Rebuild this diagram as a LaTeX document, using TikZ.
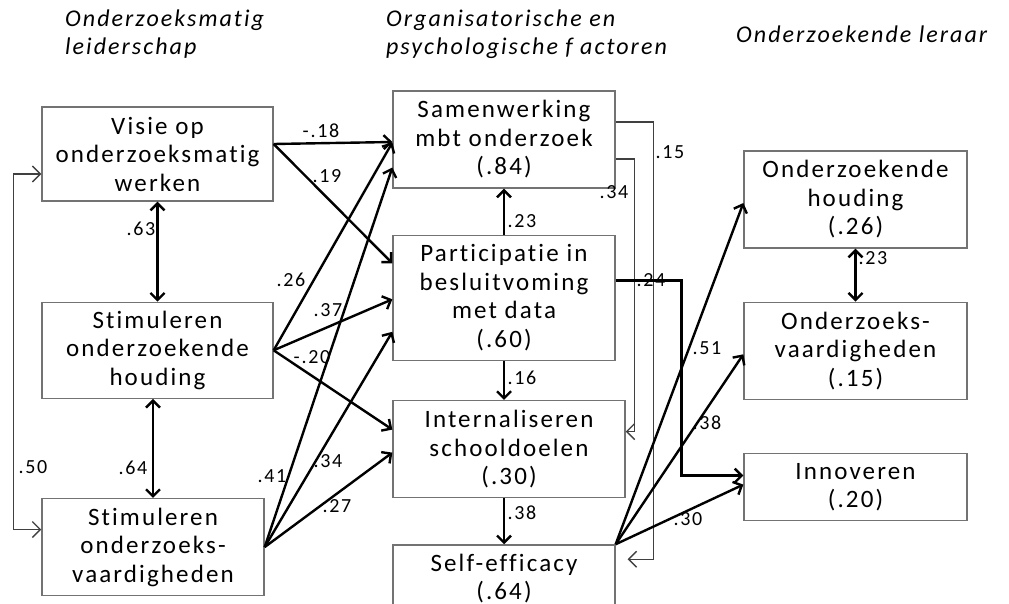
\documentclass[tikz,border=0pt]{standalone}
\usepackage{fontspec}
\setmainfont[LetterSpace=8.5,Ligatures=NoCommon]{Carlito}
\usetikzlibrary{positioning,arrows.meta}

\begin{document}
\begin{tikzpicture}[x=1pt, y=-1pt,
box/.style={draw=black!55, line width=1.3pt, align=center, inner sep=0pt, minimum width=222pt, minimum height=97pt, font=\fontsize{25}{28.5}\selectfont},
arr/.style={line width=2.4pt, -{Straight Barb[length=7pt,width=14pt]}},
darr/.style={line width=2.4pt, {Straight Barb[length=7pt,width=14pt]}-{Straight Barb[length=7pt,width=14pt]}},
thinarr/.style={draw=black!75, line width=1.4pt, -{Straight Barb[length=8pt,width=16pt]}},
coef/.style={font=\fontsize{20}{22}\selectfont, inner sep=0pt},
head/.style={font=\itshape\fontsize{24}{28}\selectfont, align=left, inner sep=0pt}]
\useasboundingbox (0,0) rectangle (1009,604);
\clip (0,0) rectangle (1009,604);
% column titles
\node[head, anchor=north west] (h1) at (65,10) {Onderzoeksmatig\\leiderschap};
\node[head, anchor=north west] (h2) at (386,10) {Organisatorische en\\psychologische f actoren};
\node[head, anchor=base west] (h3) at (736,43) {Onderzoekende leraar};
% leadership
\node[box, minimum width=231pt, minimum height=94pt] (1) at (157.5,154) {Visie op\\onderzoeksmatig\\werken};
\node[box, minimum width=231pt, minimum height=96pt] (2) [below=100pt of 1] {Stimuleren\\onderzoekende\\houding};
\node[box] (3) [below=99pt of 2, xshift=-4.5pt] {Stimuleren\\onderzoeks-\\vaardigheden};
% factors
\node[box] (4) at (504,139.5) {Samenwerking\\mbt onderzoek\\(.84)};
\node[box, minimum height=125pt] (5) [below=46pt of 4] {Participatie in\\besluitvoming\\met data\\(.60)};
\node[box, minimum width=232pt] (6) [below=39pt of 5, xshift=5pt] {Internaliseren\\schooldoelen\\(.30)};
\node[box, minimum height=62pt, inner ysep=9pt] (7) [below=46pt of 6, xshift=-5pt] {Self-efficacy\\(.64)\\\strut};
% teacher
\node[box, minimum width=223pt] (8) at (855.5,199.5) {Onderzoekende\\houding\\(.26)};
\node[box, minimum width=223pt] (9) [below=53pt of 8] {Onderzoeks-\\vaardigheden\\(.15)};
\node[box, minimum width=223pt, minimum height=67pt] (10) [below=53pt of 9] {Innoveren\\(.20)};
% paths
\draw[arr] ([yshift=10pt]1.east) -- ([yshift=-2.5pt]4.west);
\draw[arr] ([yshift=10pt]1.east) -- ([yshift=34.5pt]5.west);
\draw[arr] (2.east) -- ([yshift=-3pt]4.west);
\draw[arr] (2.east) -- ([yshift=-1.5pt]5.west);
\draw[arr] (2.east) -- ([yshift=19.5pt]6.west);
\draw[arr] (3.east) -- ([yshift=-28pt]4.west);
\draw[arr] (3.east) -- ([yshift=-34pt]5.west);
\draw[arr] (3.east) -- ([yshift=-3.5pt]6.west);
\draw[darr] (1.south) -- (2.north);
\draw[darr] (3.north |- 2.south) -- (3.north);
\draw[thinarr, {Straight Barb[length=8pt,width=16pt]}-{Straight Barb[length=8pt,width=16pt]}] ([yshift=-20pt]1.west) -- ++(-28,0) |- ([yshift=17.5pt]3.west);
\draw[arr] (5.north) -- (4.south);
\draw[arr] (5.south) -- (5.south |- 6.north);
\draw[arr] (7.north |- 6.south) -- (7.north);
\draw[thinarr] ([yshift=-19.5pt]4.east) -- ++(19,0) |- ([yshift=17.5pt]6.east);
\draw[thinarr] ([yshift=17.5pt]4.east) -- ++(38,0) |- ([xshift=12pt,yshift=-15pt]7.north east);
\draw[arr] ([yshift=17.5pt]5.east) -- ++(66,0) |- ([yshift=11.5pt]10.west);
\draw[arr] (7.north east) -- ([yshift=-3.5pt]8.west);
\draw[arr] (7.north east) -- ([yshift=-3.5pt]9.west);
\draw[arr] (7.north east) -- ([yshift=2.5pt]10.west);
\draw[darr] (8.south) -- (9.north);
% coefficients
\node[coef] (c1) at (321,131) {-.18};
\node[coef] (c2) at (327,176) {.19};
\node[coef] (c3) at (141,229) {.63};
\node[coef] (c4) at (291,280) {.26};
\node[coef] (c5) at (328,310) {.37};
\node[coef] (c6) at (312,357) {-.20};
\node[coef] (c7) at (33,467) {.50};
\node[coef] (c8) at (133,468) {.64};
\node[coef] (c9) at (272,476) {.41};
\node[coef] (c10) at (328,461) {.34};
\node[coef] (c11) at (337,506) {.27};
\node[coef] (c12) at (522,221) {.23};
\node[coef] (c13) at (614,192) {.34};
\node[coef] (c14) at (670,152) {.15};
\node[coef] (c15) at (651,280) {.24};
\node[coef] (c16) at (707,348) {.51};
\node[coef] (c17) at (522,378) {.16};
\node[coef] (c18) at (522,513) {.38};
\node[coef] (c19) at (707,423) {.38};
\node[coef] (c20) at (688,519) {.30};
\node[coef] (c21) at (873,258) {.23};
\end{tikzpicture}
\end{document}
